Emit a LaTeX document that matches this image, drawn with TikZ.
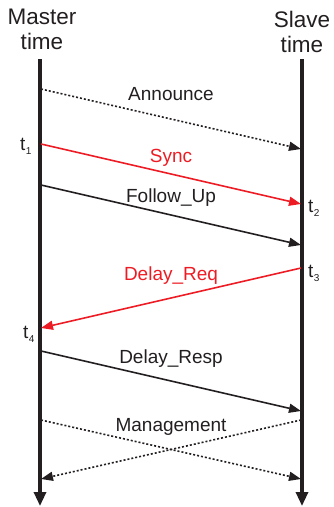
\documentclass[tikz,border=0pt]{standalone}
\usepackage{fontspec}
\setmainfont{Liberation Sans}
\usepackage{xcolor}
\definecolor{ptpred}{RGB}{237,28,36}
\definecolor{ptpink}{RGB}{35,31,32}
\usetikzlibrary{arrows.meta,positioning}
\newcommand{\tsub}[1]{t\kern0.5pt\raisebox{-4pt}{\fontsize{10}{10}\selectfont #1}}

\begin{document}
\begin{tikzpicture}[x=1pt, y=-1pt,
      tline/.style={line width=3.2pt, color=ptpink, -{Triangle[length=14pt,width=12pt]}},
      msg/.style={line width=1.6pt, color=ptpink, -{Triangle[length=12pt,width=9pt]}},
      evt/.style={msg, color=ptpred},
      dotmsg/.style={msg, dash pattern=on 2pt off 2pt},
      lbl/.style={font=\fontsize{19}{21}\selectfont, anchor=base, inner sep=0pt},
      head/.style={font=\fontsize{22.5}{25}\selectfont, align=center, anchor=north,
                   inner sep=0pt, text=ptpink},
      tstamp/.style={font=\fontsize{19}{21}\selectfont, anchor=base west, inner sep=0pt, text=ptpink}
  ]
    \useasboundingbox (0,0) rectangle (334,507);
    % time axes
    \node[head] (mhead) at (42,8.5) {Master\\time};
    \node[head] (shead) at (302,11) {Slave\\time};
    \coordinate (mtop) at (40,59);
    \coordinate (mbot) at (40,506);
    \coordinate (stop) at (302,59);
    \coordinate (sbot) at (302,506);
    \draw[tline] (mtop) -- (mbot);
    \draw[tline] (stop) -- (sbot);
    % message ends
    \coordinate (an1) at (41,89);   \coordinate (an2) at (301,149);
    \coordinate (sy1) at (41,144);  \coordinate (sy2) at (301,204);
    \coordinate (fu1) at (41,185);  \coordinate (fu2) at (301,245);
    \coordinate (dq1) at (301,268); \coordinate (dq2) at (41,328);
    \coordinate (dr1) at (41,351);  \coordinate (dr2) at (301,411);
    \coordinate (mg1) at (41,420);  \coordinate (mg2) at (301,479);
    \coordinate (mg3) at (301,420); \coordinate (mg4) at (41,479);
    % messages
    \draw[dotmsg] (an1) -- (an2) node[lbl, midway, yshift=18.5pt, text=ptpink]{Announce};
    \draw[evt] (sy1) -- (sy2) node[lbl, midway, yshift=11.5pt, text=ptpred]{Sync};
    \draw[msg] (fu1) -- (fu2) node[lbl, midway, yshift=12.5pt, text=ptpink]{Follow\_Up};
    \draw[evt] (dq1) -- (dq2) node[lbl, midway, yshift=17.5pt, text=ptpred]{Delay\_Req};
    \draw[msg] (dr1) -- (dr2) node[lbl, midway, yshift=17.5pt, text=ptpink]{Delay\_Resp};
    \draw[dotmsg] (mg1) -- (mg2) node[lbl, midway, yshift=18pt, text=ptpink]{Management};
    \draw[dotmsg] (mg3) -- (mg4);
    % timestamps
    \node[tstamp] (t1) at (20,150) {\tsub{1}};
    \node[tstamp] (t2) at (308,212) {\tsub{2}};
    \node[tstamp] (t3) at (308,277) {\tsub{3}};
    \node[tstamp] (t4) at (23,338) {\tsub{4}};
  \end{tikzpicture}
\end{document}
